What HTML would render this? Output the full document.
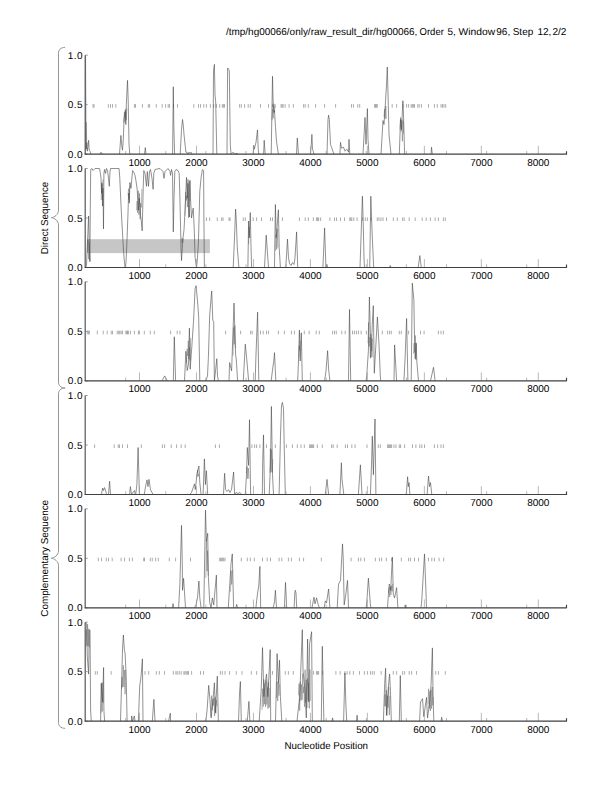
<!DOCTYPE html>
<html><head><meta charset="utf-8"><title>plot</title>
<style>html,body{margin:0;padding:0;background:#fff;}svg{display:block;text-rendering:geometricPrecision;}</style></head>
<body><svg width="612" height="792" viewBox="0 0 612 792" font-family="'Liberation Sans', Arial, Helvetica, sans-serif">
<rect width="612" height="792" fill="#fff"/>
<text y="34.6" font-size="10"><tspan x="226" textLength="191.4" lengthAdjust="spacingAndGlyphs">/tmp/hg00066/only/raw_result_dir/hg00066,</tspan> <tspan x="419.6" textLength="24.2" lengthAdjust="spacingAndGlyphs">Order</tspan> <tspan x="447.4">5,</tspan> <tspan x="458.5" textLength="36.6" lengthAdjust="spacingAndGlyphs">Window</tspan> <tspan x="496.3">96,</tspan> <tspan x="512.7">Step</tspan> <tspan x="537.5">12,</tspan> <tspan x="552.5">2/2</tspan></text>
<path d="M65.1,47.3 C60.5,47.599999999999994 58.5,49.8 58.5,53.3 L58.5,210.25 C58.5,214.65 54.3,217.35 51.3,217.65 C54.3,217.95000000000002 58.5,220.65 58.5,225.05 L58.5,382.0 C58.5,385.5 60.5,387.7 65.1,388.0" fill="none" stroke="#8a8a8a" stroke-width="0.9"/>
<path d="M65.1,388.0 C60.5,388.3 58.5,390.5 58.5,394.0 L58.5,550.8000000000001 C58.5,555.2 54.3,557.9000000000001 51.3,558.2 C54.3,558.5 58.5,561.2 58.5,565.6 L58.5,722.4 C58.5,725.9 60.5,728.1 65.1,728.4" fill="none" stroke="#8a8a8a" stroke-width="0.9"/>
<text transform="translate(47.6,218.0) rotate(-90)" font-size="10" text-anchor="middle" textLength="72.5" lengthAdjust="spacingAndGlyphs">Direct Sequence</text>
<text transform="translate(48.2,558.3) rotate(-90)" font-size="10" text-anchor="middle" textLength="116.8" lengthAdjust="spacingAndGlyphs">Complementary Sequence</text>
<text x="326.3" y="748.7" font-size="10" text-anchor="middle" textLength="83.5" lengthAdjust="spacingAndGlyphs">Nucleotide Position</text>
<rect x="86.9" y="239.2" width="123.0" height="13.9" fill="#c6c6c6"/>
<path d="M93.0,104.1v3.6M94.0,104.1v3.6M108.3,104.1v3.6M110.5,104.1v3.6M112.5,104.1v3.6M115.8,104.1v3.6M134.4,104.1v3.6M135.5,104.1v3.6M142.4,104.1v3.6M148.3,104.1v3.6M149.6,104.1v3.6M156.3,104.1v3.6M162.2,104.1v3.6M165.6,104.1v3.6M168.2,104.1v3.6M169.5,104.1v3.6M173.5,104.1v3.6M177.5,104.1v3.6M193.8,104.1v3.6M198.5,104.1v3.6M200.5,104.1v3.6M203.8,104.1v3.6M206.4,104.1v3.6M210.4,104.1v3.6M213.7,104.1v3.6M216.4,104.1v3.6M219.7,104.1v3.6M222.3,104.1v3.6M223.4,104.1v3.6M224.5,104.1v3.6M239.6,104.1v3.6M241.3,104.1v3.6M244.6,104.1v3.6M248.2,104.1v3.6M250.3,104.1v3.6M260.5,104.1v3.6M268.5,104.1v3.6M272.5,104.1v3.6M275.1,104.1v3.6M281.1,104.1v3.6M282.1,104.1v3.6M283.1,104.1v3.6M285.1,104.1v3.6M289.1,104.1v3.6M293.3,104.1v3.6M303.6,104.1v3.6M305.2,104.1v3.6M308.3,104.1v3.6M315.6,104.1v3.6M324.6,104.1v3.6M335.6,104.1v3.6M351.5,104.1v3.6M353.4,104.1v3.6M357.8,104.1v3.6M359.7,104.1v3.6M374.6,104.1v3.6M375.5,104.1v3.6M376.4,104.1v3.6M377.3,104.1v3.6M392.2,104.1v3.6M396.6,104.1v3.6M402.9,104.1v3.6M406.6,104.1v3.6M408.6,104.1v3.6M411.2,104.1v3.6M412.3,104.1v3.6M413.4,104.1v3.6M414.5,104.1v3.6M417.8,104.1v3.6M419.2,104.1v3.6M421.4,104.1v3.6M428.5,104.1v3.6M434.4,104.1v3.6M437.3,104.1v3.6M441.0,104.1v3.6M442.5,104.1v3.6M444.0,104.1v3.6M445.7,104.1v3.6" stroke="#888" stroke-width="0.7" fill="none"/>
<polyline points="123.80,122.7 124.40,111.8 125.00,121.7 125.60,112.2 126.20,119.7 126.80,108.1" fill="none" stroke="#707070" stroke-width="0.5"/>
<polyline points="272.00,120.4 272.60,108.8 273.20,118.3 273.80,103.7 274.40,112.1 275.00,105.7" fill="none" stroke="#707070" stroke-width="0.5"/>
<polyline points="384.00,117.0 384.60,108.9 385.20,118.8 385.80,106.0 386.40,118.8" fill="none" stroke="#707070" stroke-width="0.5"/>
<polyline points="400.00,129.5 400.60,117.3 401.20,131.4 401.80,119.5 402.40,141.3 403.00,120.8 403.60,133.6" fill="none" stroke="#707070" stroke-width="0.5"/>
<polyline points="85.50,149.7 86.10,122.0 86.70,141.4" fill="none" stroke="#707070" stroke-width="0.5"/>
<polyline points="85.5,55.2 85.9,121.5 86.3,149.2 86.8,142.3 87.3,151.2 88.0,146.2 88.6,140.3 89.2,150.2 90.0,151.2 91.0,154.2" fill="none" stroke="#484848" stroke-width="0.6" stroke-linejoin="round"/>
<polyline points="100.0,154.2 101.0,152.2 102.5,154.2" fill="none" stroke="#484848" stroke-width="0.6" stroke-linejoin="round"/>
<polyline points="119.5,154.2 120.9,135.4 121.8,146.2 122.5,150.2 123.3,139.3 124.0,119.5 125.4,109.6 125.8,124.5 126.3,104.7 127.5,80.4 128.2,99.7 129.0,144.3 129.8,154.2" fill="none" stroke="#484848" stroke-width="0.6" stroke-linejoin="round"/>
<polyline points="144.5,154.2 145.3,147.6 146.0,154.2" fill="none" stroke="#484848" stroke-width="0.6" stroke-linejoin="round"/>
<polyline points="172.6,154.2 173.3,86.8 173.8,124.5 174.6,154.2" fill="none" stroke="#484848" stroke-width="0.6" stroke-linejoin="round"/>
<polyline points="180.2,154.2 181.5,129.4 182.5,119.5 183.2,124.5 184.0,134.4 185.9,152.2 187.0,152.2 188.0,154.2 189.0,152.2 190.0,153.2 191.0,152.2 192.0,154.2" fill="none" stroke="#484848" stroke-width="0.6" stroke-linejoin="round"/>
<polyline points="213.0,154.2 213.5,71.0 214.4,64.4 215.0,94.8 215.7,101.7 216.8,154.2" fill="none" stroke="#484848" stroke-width="0.6" stroke-linejoin="round"/>
<polyline points="227.0,154.2 227.6,68.0 228.5,69.0 229.3,71.0 230.3,144.3 231.0,154.2 233.0,152.2 235.0,154.2 236.0,153.2 238.0,154.2" fill="none" stroke="#484848" stroke-width="0.6" stroke-linejoin="round"/>
<polyline points="253.2,154.2 253.7,145.3 254.3,149.2 256.0,142.3 257.5,129.9 258.2,149.2 258.8,154.2" fill="none" stroke="#484848" stroke-width="0.6" stroke-linejoin="round"/>
<polyline points="263.6,154.2 264.2,140.3 265.2,154.2" fill="none" stroke="#484848" stroke-width="0.6" stroke-linejoin="round"/>
<polyline points="271.2,154.2 272.5,76.3 273.2,104.7 274.0,112.6 274.5,110.6 275.5,127.4 276.5,141.3 278.4,154.2" fill="none" stroke="#484848" stroke-width="0.6" stroke-linejoin="round"/>
<polyline points="296.5,154.2 297.3,137.9 298.5,154.2" fill="none" stroke="#484848" stroke-width="0.6" stroke-linejoin="round"/>
<polyline points="310.5,154.2 311.3,144.3 311.9,134.4 312.5,149.2 313.2,151.2 314.0,154.2" fill="none" stroke="#484848" stroke-width="0.6" stroke-linejoin="round"/>
<polyline points="327.0,154.2 328.0,119.5 328.6,115.2 329.3,119.5 330.5,144.3 331.5,147.2 333.9,154.2" fill="none" stroke="#484848" stroke-width="0.6" stroke-linejoin="round"/>
<polyline points="339.9,154.2 340.5,142.3 341.5,148.2 343.5,147.2 345.0,151.2 347.0,149.2 348.5,152.2 349.0,139.3 349.8,154.2" fill="none" stroke="#484848" stroke-width="0.6" stroke-linejoin="round"/>
<polyline points="363.0,154.2 365.0,117.5 366.0,144.3 367.4,108.6 368.0,139.3 369.0,154.2" fill="none" stroke="#484848" stroke-width="0.6" stroke-linejoin="round"/>
<polyline points="381.0,154.2 383.0,120.5 384.0,124.5 385.0,109.6 386.5,84.9 387.3,67.0 388.3,104.7 389.0,134.4 391.0,154.2" fill="none" stroke="#484848" stroke-width="0.6" stroke-linejoin="round"/>
<polyline points="399.3,154.2 400.5,119.5 401.5,129.4 402.9,100.7 403.5,114.6 404.6,154.2" fill="none" stroke="#484848" stroke-width="0.6" stroke-linejoin="round"/>
<polyline points="431.0,154.2 431.5,147.2 432.3,154.2" fill="none" stroke="#484848" stroke-width="0.6" stroke-linejoin="round"/>
<line x1="125.7" y1="154.17" x2="125.7" y2="150.97" stroke="#9a9a9a" stroke-width="0.7"/>
<line x1="165.8" y1="154.17" x2="165.8" y2="150.97" stroke="#9a9a9a" stroke-width="0.7"/>
<line x1="205.9" y1="154.17" x2="205.9" y2="150.97" stroke="#9a9a9a" stroke-width="0.7"/>
<line x1="246.0" y1="154.17" x2="246.0" y2="150.97" stroke="#9a9a9a" stroke-width="0.7"/>
<line x1="286.1" y1="154.17" x2="286.1" y2="150.97" stroke="#9a9a9a" stroke-width="0.7"/>
<line x1="326.2" y1="154.17" x2="326.2" y2="150.97" stroke="#9a9a9a" stroke-width="0.7"/>
<line x1="366.3" y1="154.17" x2="366.3" y2="150.97" stroke="#9a9a9a" stroke-width="0.7"/>
<line x1="406.4" y1="154.17" x2="406.4" y2="150.97" stroke="#9a9a9a" stroke-width="0.7"/>
<line x1="446.5" y1="154.17" x2="446.5" y2="150.97" stroke="#9a9a9a" stroke-width="0.7"/>
<line x1="486.6" y1="154.17" x2="486.6" y2="150.97" stroke="#9a9a9a" stroke-width="0.7"/>
<line x1="526.7" y1="154.17" x2="526.7" y2="150.97" stroke="#9a9a9a" stroke-width="0.7"/>
<path d="M206.4,217.4v3.6M209.7,217.4v3.6M217.3,217.4v3.6M221.7,217.4v3.6M223.0,217.4v3.6M229.0,217.4v3.6M230.0,217.4v3.6M243.3,217.4v3.6M245.3,217.4v3.6M253.2,217.4v3.6M256.6,217.4v3.6M261.5,217.4v3.6M270.5,217.4v3.6M272.5,217.4v3.6M282.4,217.4v3.6M299.4,217.4v3.6M305.2,217.4v3.6M308.3,217.4v3.6M313.3,217.4v3.6M316.6,217.4v3.6M317.6,217.4v3.6M318.6,217.4v3.6M320.6,217.4v3.6M329.9,217.4v3.6M334.5,217.4v3.6M336.5,217.4v3.6M340.5,217.4v3.6M344.5,217.4v3.6M349.8,217.4v3.6M350.8,217.4v3.6M351.8,217.4v3.6M353.8,217.4v3.6M357.1,217.4v3.6M362.4,217.4v3.6M365.3,217.4v3.6M367.4,217.4v3.6M371.0,217.4v3.6M377.3,217.4v3.6M379.0,217.4v3.6M381.0,217.4v3.6M383.0,217.4v3.6M386.5,217.4v3.6M393.3,217.4v3.6M397.3,217.4v3.6M402.6,217.4v3.6M404.2,217.4v3.6M409.2,217.4v3.6M415.2,217.4v3.6M422.2,217.4v3.6M426.2,217.4v3.6M430.4,217.4v3.6M435.1,217.4v3.6M438.4,217.4v3.6M443.4,217.4v3.6M445.3,217.4v3.6" stroke="#888" stroke-width="0.7" fill="none"/>
<polyline points="101.20,200.0 101.80,182.5 102.40,199.9 103.00,179.4" fill="none" stroke="#707070" stroke-width="0.5"/>
<polyline points="136.50,210.3 137.10,201.1 137.70,212.8 138.30,190.8 138.90,214.8 139.50,193.4 140.10,219.1 140.70,203.2 141.30,207.4 141.90,189.0" fill="none" stroke="#707070" stroke-width="0.5"/>
<polyline points="128.00,195.5 128.60,188.7 129.20,199.7 129.80,185.9" fill="none" stroke="#707070" stroke-width="0.5"/>
<polyline points="181.50,242.7 182.10,237.9 182.70,242.7 183.30,238.8" fill="none" stroke="#707070" stroke-width="0.5"/>
<polyline points="185.00,215.6 185.60,192.1 186.20,200.5 186.80,195.7 187.40,207.1 188.00,179.2 188.60,217.9 189.20,180.8 189.80,201.2" fill="none" stroke="#707070" stroke-width="0.5"/>
<polyline points="248.60,244.3 249.20,227.0 249.80,237.7" fill="none" stroke="#707070" stroke-width="0.5"/>
<polyline points="275.50,250.8 276.10,234.5 276.70,249.4 277.30,228.7 277.90,247.6" fill="none" stroke="#707070" stroke-width="0.5"/>
<polyline points="87.50,252.5 88.10,239.5 88.70,259.2 89.30,242.2 89.90,261.2" fill="none" stroke="#707070" stroke-width="0.5"/>
<polyline points="85.6,267.5 86.5,265.5 88.6,216.0 89.2,242.8 89.9,261.6 90.3,208.1 90.7,169.5 92.0,168.5 93.0,170.5 95.0,168.5 99.5,168.5 100.4,173.4 101.0,178.4 101.5,193.2 102.0,183.4 102.5,206.1 103.0,188.3 103.5,228.9 103.9,173.4 104.6,169.5 105.5,173.4 106.5,168.5 107.5,170.5 108.5,178.4 109.3,186.3 110.0,171.5 110.5,168.5 115.0,168.5 119.1,168.5 119.8,178.4 121.0,205.1 121.8,221.0 122.5,232.8 123.2,244.7 124.0,257.6 125.1,267.5 126.0,262.6 127.1,237.8 128.0,213.1 128.6,193.2 129.3,203.1 129.9,182.4 131.0,188.3 132.6,170.5 133.9,172.5 135.0,175.4 135.9,180.4 137.2,189.3 138.0,203.1 138.5,210.1 139.2,198.2 139.9,205.1 140.6,216.0 141.2,220.0 142.2,230.9 143.2,188.3 143.8,170.5 145.0,173.4 146.5,186.3 147.3,171.5 148.5,186.3 149.5,171.5 150.5,169.5 152.0,178.4 153.1,189.3 153.8,173.4 155.0,169.5 160.0,168.5 163.0,171.5 164.0,178.4 165.0,171.5 168.0,168.5 170.0,171.5 170.6,175.4 171.5,169.5 172.5,173.4 173.3,231.9 174.0,198.2 174.8,171.5 176.0,169.5 178.0,170.5 179.2,173.4 179.9,198.2 180.6,227.9 181.0,247.7 181.5,260.6 182.3,247.7 183.0,237.8 184.0,229.9 185.2,208.1 186.5,177.4 187.3,198.2 188.0,183.4 188.8,208.1 189.4,217.0 190.0,180.4 190.5,198.2 191.5,218.0 193.2,208.1 194.2,227.9 195.1,257.6 196.5,267.5 197.5,257.6 198.4,242.8 199.8,191.3 201.0,178.4 202.4,169.5 203.6,170.5 203.9,218.0 204.4,267.5" fill="none" stroke="#484848" stroke-width="0.6" stroke-linejoin="round"/>
<polyline points="233.2,267.5 234.5,237.8 235.6,209.1 236.4,222.9 237.3,247.7 238.9,267.5" fill="none" stroke="#484848" stroke-width="0.6" stroke-linejoin="round"/>
<polyline points="247.9,267.5 248.6,221.0 249.2,237.8 250.3,212.6 250.9,242.8 251.6,267.5" fill="none" stroke="#484848" stroke-width="0.6" stroke-linejoin="round"/>
<polyline points="264.5,267.5 266.2,235.1 268.5,267.5" fill="none" stroke="#484848" stroke-width="0.6" stroke-linejoin="round"/>
<polyline points="274.5,267.5 275.4,204.5 276.2,237.8 277.0,227.9 278.4,209.8 279.2,247.7 280.4,267.5" fill="none" stroke="#484848" stroke-width="0.6" stroke-linejoin="round"/>
<polyline points="285.8,267.5 287.5,239.1 288.5,257.6 289.5,263.5 291.0,265.5 292.5,262.6 294.0,264.5 295.0,257.6 296.6,231.9 297.7,267.5" fill="none" stroke="#484848" stroke-width="0.6" stroke-linejoin="round"/>
<polyline points="322.9,267.5 324.6,227.9 325.9,267.5 327.0,264.5 327.5,267.5" fill="none" stroke="#484848" stroke-width="0.6" stroke-linejoin="round"/>
<polyline points="360.0,267.5 361.0,237.8 362.4,196.2 363.1,218.0 364.0,257.6 364.5,267.5" fill="none" stroke="#484848" stroke-width="0.6" stroke-linejoin="round"/>
<polyline points="369.7,267.5 370.8,196.2 372.3,237.8 373.7,267.5" fill="none" stroke="#484848" stroke-width="0.6" stroke-linejoin="round"/>
<polyline points="389.5,267.5 390.2,265.5 391.0,267.5" fill="none" stroke="#484848" stroke-width="0.6" stroke-linejoin="round"/>
<polyline points="418.2,267.5 419.8,255.6 421.3,267.5" fill="none" stroke="#484848" stroke-width="0.6" stroke-linejoin="round"/>
<line x1="125.7" y1="267.50" x2="125.7" y2="264.30" stroke="#9a9a9a" stroke-width="0.7"/>
<line x1="165.8" y1="267.50" x2="165.8" y2="264.30" stroke="#9a9a9a" stroke-width="0.7"/>
<line x1="205.9" y1="267.50" x2="205.9" y2="264.30" stroke="#9a9a9a" stroke-width="0.7"/>
<line x1="246.0" y1="267.50" x2="246.0" y2="264.30" stroke="#9a9a9a" stroke-width="0.7"/>
<line x1="286.1" y1="267.50" x2="286.1" y2="264.30" stroke="#9a9a9a" stroke-width="0.7"/>
<line x1="326.2" y1="267.50" x2="326.2" y2="264.30" stroke="#9a9a9a" stroke-width="0.7"/>
<line x1="366.3" y1="267.50" x2="366.3" y2="264.30" stroke="#9a9a9a" stroke-width="0.7"/>
<line x1="406.4" y1="267.50" x2="406.4" y2="264.30" stroke="#9a9a9a" stroke-width="0.7"/>
<line x1="446.5" y1="267.50" x2="446.5" y2="264.30" stroke="#9a9a9a" stroke-width="0.7"/>
<line x1="486.6" y1="267.50" x2="486.6" y2="264.30" stroke="#9a9a9a" stroke-width="0.7"/>
<line x1="526.7" y1="267.50" x2="526.7" y2="264.30" stroke="#9a9a9a" stroke-width="0.7"/>
<path d="M87.3,330.7v3.6M88.6,330.7v3.6M89.3,330.7v3.6M97.3,330.7v3.6M103.2,330.7v3.6M107.2,330.7v3.6M111.2,330.7v3.6M112.5,330.7v3.6M117.2,330.7v3.6M118.7,330.7v3.6M119.8,330.7v3.6M121.1,330.7v3.6M122.5,330.7v3.6M125.8,330.7v3.6M126.7,330.7v3.6M127.5,330.7v3.6M128.4,330.7v3.6M130.4,330.7v3.6M134.4,330.7v3.6M138.4,330.7v3.6M139.4,330.7v3.6M144.3,330.7v3.6M150.3,330.7v3.6M154.3,330.7v3.6M170.6,330.7v3.6M177.2,330.7v3.6M179.9,330.7v3.6M225.6,330.7v3.6M240.6,330.7v3.6M250.6,330.7v3.6M252.2,330.7v3.6M260.5,330.7v3.6M263.2,330.7v3.6M266.5,330.7v3.6M268.5,330.7v3.6M278.4,330.7v3.6M284.4,330.7v3.6M291.4,330.7v3.6M294.4,330.7v3.6M304.3,330.7v3.6M309.2,330.7v3.6M316.2,330.7v3.6M319.3,330.7v3.6M332.6,330.7v3.6M334.5,330.7v3.6M336.3,330.7v3.6M341.8,330.7v3.6M345.2,330.7v3.6M352.5,330.7v3.6M354.4,330.7v3.6M356.4,330.7v3.6M358.4,330.7v3.6M361.1,330.7v3.6M366.4,330.7v3.6M382.3,330.7v3.6M387.6,330.7v3.6M389.6,330.7v3.6M391.3,330.7v3.6M399.3,330.7v3.6M401.3,330.7v3.6M408.6,330.7v3.6M420.5,330.7v3.6M424.1,330.7v3.6M438.4,330.7v3.6M441.0,330.7v3.6M443.4,330.7v3.6" stroke="#888" stroke-width="0.7" fill="none"/>
<polyline points="186.50,362.8 187.10,348.9 187.70,356.0 188.30,340.8 188.90,359.0 189.50,347.3 190.10,360.6 190.70,338.0" fill="none" stroke="#707070" stroke-width="0.5"/>
<polyline points="233.00,355.7 233.60,327.4 234.20,344.4 234.80,325.4 235.40,348.3" fill="none" stroke="#707070" stroke-width="0.5"/>
<polyline points="298.60,357.5 299.20,345.7 299.80,350.5 300.40,340.8" fill="none" stroke="#707070" stroke-width="0.5"/>
<polyline points="368.00,343.2 368.60,322.5 369.20,346.5 369.80,337.0 370.40,358.3 371.00,334.0 371.60,351.1 372.20,338.5 372.80,357.3" fill="none" stroke="#707070" stroke-width="0.5"/>
<polyline points="413.50,353.8 414.10,343.1 414.70,352.5 415.30,335.5 415.90,359.9 416.50,343.9" fill="none" stroke="#707070" stroke-width="0.5"/>
<polyline points="162.0,380.8 164.6,375.9 167.3,380.8" fill="none" stroke="#484848" stroke-width="0.6" stroke-linejoin="round"/>
<polyline points="173.3,380.8 174.3,336.8 175.6,380.8" fill="none" stroke="#484848" stroke-width="0.6" stroke-linejoin="round"/>
<polyline points="184.5,380.8 185.9,351.4 187.2,370.6 188.5,364.0 189.4,328.2 190.2,369.2 191.8,346.8 193.5,321.4 195.1,288.4 196.1,285.7 197.8,304.3 198.7,317.6 199.8,380.8" fill="none" stroke="#484848" stroke-width="0.6" stroke-linejoin="round"/>
<polyline points="205.8,380.8 207.5,375.9 208.4,357.4 209.7,314.9 211.7,291.0 212.8,320.2 213.7,321.5 214.4,380.8 215.5,370.9 216.8,358.7 217.5,375.9 218.4,380.8" fill="none" stroke="#484848" stroke-width="0.6" stroke-linejoin="round"/>
<polyline points="229.0,380.8 229.6,362.6 231.6,370.9 232.3,351.1 234.0,303.0 235.6,354.7 236.3,359.9 237.6,380.8" fill="none" stroke="#484848" stroke-width="0.6" stroke-linejoin="round"/>
<polyline points="243.3,380.8 245.3,344.2 246.6,357.4 248.6,380.8" fill="none" stroke="#484848" stroke-width="0.6" stroke-linejoin="round"/>
<polyline points="255.2,380.8 255.9,357.4 257.6,312.2 258.8,380.8" fill="none" stroke="#484848" stroke-width="0.6" stroke-linejoin="round"/>
<polyline points="271.2,380.8 273.0,366.0 273.8,361.0 274.5,352.7 275.8,380.8" fill="none" stroke="#484848" stroke-width="0.6" stroke-linejoin="round"/>
<polyline points="297.7,380.8 298.5,361.0 299.4,330.1 300.2,361.0 301.3,332.8 302.3,380.8" fill="none" stroke="#484848" stroke-width="0.6" stroke-linejoin="round"/>
<polyline points="324.6,380.8 326.0,370.9 327.6,350.7 328.6,369.2 329.9,380.8" fill="none" stroke="#484848" stroke-width="0.6" stroke-linejoin="round"/>
<polyline points="348.5,380.8 349.5,309.5 350.7,380.8" fill="none" stroke="#484848" stroke-width="0.6" stroke-linejoin="round"/>
<polyline points="366.4,380.8 368.4,350.7 369.4,297.0 371.0,357.4 372.3,324.2 373.3,305.6 374.3,373.2 376.3,337.3 377.4,316.9 379.0,344.2 380.3,375.9 380.7,380.8" fill="none" stroke="#484848" stroke-width="0.6" stroke-linejoin="round"/>
<polyline points="394.0,380.8 394.6,344.9 396.6,380.8" fill="none" stroke="#484848" stroke-width="0.6" stroke-linejoin="round"/>
<polyline points="403.9,380.8 405.0,359.9 406.6,318.5 407.9,380.8" fill="none" stroke="#484848" stroke-width="0.6" stroke-linejoin="round"/>
<polyline points="411.2,380.8 412.3,283.1 413.9,300.3 414.5,337.3 415.2,358.7 416.1,342.8 416.9,362.6 418.5,380.8" fill="none" stroke="#484848" stroke-width="0.6" stroke-linejoin="round"/>
<polyline points="430.5,380.8 433.5,367.3 435.1,380.8" fill="none" stroke="#484848" stroke-width="0.6" stroke-linejoin="round"/>
<line x1="125.7" y1="380.83" x2="125.7" y2="377.63" stroke="#9a9a9a" stroke-width="0.7"/>
<line x1="165.8" y1="380.83" x2="165.8" y2="377.63" stroke="#9a9a9a" stroke-width="0.7"/>
<line x1="205.9" y1="380.83" x2="205.9" y2="377.63" stroke="#9a9a9a" stroke-width="0.7"/>
<line x1="246.0" y1="380.83" x2="246.0" y2="377.63" stroke="#9a9a9a" stroke-width="0.7"/>
<line x1="286.1" y1="380.83" x2="286.1" y2="377.63" stroke="#9a9a9a" stroke-width="0.7"/>
<line x1="326.2" y1="380.83" x2="326.2" y2="377.63" stroke="#9a9a9a" stroke-width="0.7"/>
<line x1="366.3" y1="380.83" x2="366.3" y2="377.63" stroke="#9a9a9a" stroke-width="0.7"/>
<line x1="406.4" y1="380.83" x2="406.4" y2="377.63" stroke="#9a9a9a" stroke-width="0.7"/>
<line x1="446.5" y1="380.83" x2="446.5" y2="377.63" stroke="#9a9a9a" stroke-width="0.7"/>
<line x1="486.6" y1="380.83" x2="486.6" y2="377.63" stroke="#9a9a9a" stroke-width="0.7"/>
<line x1="526.7" y1="380.83" x2="526.7" y2="377.63" stroke="#9a9a9a" stroke-width="0.7"/>
<path d="M94.6,444.4v3.6M114.2,444.4v3.6M118.2,444.4v3.6M119.5,444.4v3.6M122.5,444.4v3.6M127.5,444.4v3.6M141.3,444.4v3.6M162.4,444.4v3.6M164.6,444.4v3.6M171.3,444.4v3.6M176.6,444.4v3.6M181.2,444.4v3.6M185.2,444.4v3.6M215.4,444.4v3.6M219.4,444.4v3.6M251.9,444.4v3.6M254.6,444.4v3.6M256.6,444.4v3.6M259.9,444.4v3.6M266.5,444.4v3.6M275.4,444.4v3.6M286.4,444.4v3.6M292.4,444.4v3.6M297.3,444.4v3.6M301.0,444.4v3.6M304.3,444.4v3.6M309.6,444.4v3.6M310.6,444.4v3.6M311.6,444.4v3.6M312.6,444.4v3.6M313.6,444.4v3.6M317.3,444.4v3.6M322.3,444.4v3.6M331.6,444.4v3.6M333.2,444.4v3.6M337.2,444.4v3.6M345.4,444.4v3.6M347.5,444.4v3.6M351.8,444.4v3.6M355.1,444.4v3.6M367.0,444.4v3.6M378.3,444.4v3.6M380.3,444.4v3.6M387.6,444.4v3.6M388.6,444.4v3.6M389.6,444.4v3.6M390.6,444.4v3.6M391.6,444.4v3.6M394.0,444.4v3.6M396.0,444.4v3.6M399.3,444.4v3.6M400.6,444.4v3.6M404.6,444.4v3.6M412.5,444.4v3.6M415.9,444.4v3.6M419.8,444.4v3.6M421.8,444.4v3.6M424.5,444.4v3.6M434.4,444.4v3.6M437.7,444.4v3.6M441.0,444.4v3.6M443.4,444.4v3.6" stroke="#888" stroke-width="0.7" fill="none"/>
<polyline points="246.50,473.3 247.10,466.5 247.70,478.8 248.30,468.1 248.90,478.7" fill="none" stroke="#707070" stroke-width="0.5"/>
<polyline points="269.80,473.2 270.40,448.5 271.00,471.8 271.60,449.5 272.20,472.6 272.80,459.2" fill="none" stroke="#707070" stroke-width="0.5"/>
<polyline points="197.00,477.2 197.60,469.9 198.20,476.4 198.80,473.8" fill="none" stroke="#707070" stroke-width="0.5"/>
<polyline points="101.5,494.5 102.6,488.0 103.5,490.5 104.5,487.6 105.9,491.5 106.5,494.5" fill="none" stroke="#484848" stroke-width="0.6" stroke-linejoin="round"/>
<polyline points="108.5,494.5 109.6,481.2 110.5,494.5" fill="none" stroke="#484848" stroke-width="0.6" stroke-linejoin="round"/>
<polyline points="129.5,494.5 130.4,486.6 131.5,494.5 134.5,490.5 135.2,494.5" fill="none" stroke="#484848" stroke-width="0.6" stroke-linejoin="round"/>
<polyline points="135.7,494.5 136.9,484.6 138.1,447.5 139.4,494.5" fill="none" stroke="#484848" stroke-width="0.6" stroke-linejoin="round"/>
<polyline points="144.3,494.5 145.5,486.6 147.0,479.9 148.0,486.6 149.0,479.4 150.5,489.6 152.0,492.5 153.0,494.5" fill="none" stroke="#484848" stroke-width="0.6" stroke-linejoin="round"/>
<polyline points="189.8,494.5 191.5,492.5 194.5,483.9 195.3,489.6 197.1,473.3 198.9,466.0 199.8,482.6 201.1,494.5" fill="none" stroke="#484848" stroke-width="0.6" stroke-linejoin="round"/>
<polyline points="203.1,494.5 204.4,458.9 205.4,484.6 206.4,470.7 207.7,494.5" fill="none" stroke="#484848" stroke-width="0.6" stroke-linejoin="round"/>
<polyline points="223.5,494.5 224.6,473.3 225.6,489.6 227.0,491.5 228.5,489.6 230.0,492.5 231.5,489.6 233.6,472.0 234.6,494.5 236.0,492.5 238.0,493.5 240.0,492.5 241.3,494.5" fill="none" stroke="#484848" stroke-width="0.6" stroke-linejoin="round"/>
<polyline points="245.3,494.5 246.5,474.7 247.3,447.5 248.6,465.4 249.5,419.7 250.6,494.5" fill="none" stroke="#484848" stroke-width="0.6" stroke-linejoin="round"/>
<polyline points="262.3,494.5 262.7,461.4 263.5,434.9 264.5,494.5" fill="none" stroke="#484848" stroke-width="0.6" stroke-linejoin="round"/>
<polyline points="269.2,494.5 270.5,464.8 271.4,406.4 272.5,474.7 273.5,494.5" fill="none" stroke="#484848" stroke-width="0.6" stroke-linejoin="round"/>
<polyline points="279.1,494.5 280.5,435.1 281.5,405.4 282.4,402.4 283.5,408.4 284.2,445.0 285.3,494.5" fill="none" stroke="#484848" stroke-width="0.6" stroke-linejoin="round"/>
<polyline points="325.3,494.5 327.0,479.4 328.6,494.5" fill="none" stroke="#484848" stroke-width="0.6" stroke-linejoin="round"/>
<polyline points="339.9,494.5 341.4,462.8 342.0,479.6 343.8,494.5" fill="none" stroke="#484848" stroke-width="0.6" stroke-linejoin="round"/>
<polyline points="358.4,494.5 360.4,464.8 362.0,494.5" fill="none" stroke="#484848" stroke-width="0.6" stroke-linejoin="round"/>
<polyline points="370.4,494.5 371.5,464.8 372.3,436.2 373.4,474.7 375.0,419.0 375.9,494.5" fill="none" stroke="#484848" stroke-width="0.6" stroke-linejoin="round"/>
<polyline points="406.3,494.5 407.0,484.6 407.6,476.7 408.3,486.6 409.0,482.6 409.9,494.5" fill="none" stroke="#484848" stroke-width="0.6" stroke-linejoin="round"/>
<polyline points="427.1,494.5 428.5,476.0 429.5,486.6 430.5,482.6 431.8,494.5" fill="none" stroke="#484848" stroke-width="0.6" stroke-linejoin="round"/>
<line x1="125.7" y1="494.50" x2="125.7" y2="491.30" stroke="#9a9a9a" stroke-width="0.7"/>
<line x1="165.8" y1="494.50" x2="165.8" y2="491.30" stroke="#9a9a9a" stroke-width="0.7"/>
<line x1="205.9" y1="494.50" x2="205.9" y2="491.30" stroke="#9a9a9a" stroke-width="0.7"/>
<line x1="246.0" y1="494.50" x2="246.0" y2="491.30" stroke="#9a9a9a" stroke-width="0.7"/>
<line x1="286.1" y1="494.50" x2="286.1" y2="491.30" stroke="#9a9a9a" stroke-width="0.7"/>
<line x1="326.2" y1="494.50" x2="326.2" y2="491.30" stroke="#9a9a9a" stroke-width="0.7"/>
<line x1="366.3" y1="494.50" x2="366.3" y2="491.30" stroke="#9a9a9a" stroke-width="0.7"/>
<line x1="406.4" y1="494.50" x2="406.4" y2="491.30" stroke="#9a9a9a" stroke-width="0.7"/>
<line x1="446.5" y1="494.50" x2="446.5" y2="491.30" stroke="#9a9a9a" stroke-width="0.7"/>
<line x1="486.6" y1="494.50" x2="486.6" y2="491.30" stroke="#9a9a9a" stroke-width="0.7"/>
<line x1="526.7" y1="494.50" x2="526.7" y2="491.30" stroke="#9a9a9a" stroke-width="0.7"/>
<path d="M98.3,557.7v3.6M101.5,557.7v3.6M106.3,557.7v3.6M108.5,557.7v3.6M112.2,557.7v3.6M121.1,557.7v3.6M124.5,557.7v3.6M129.4,557.7v3.6M132.4,557.7v3.6M143.7,557.7v3.6M144.5,557.7v3.6M150.3,557.7v3.6M152.3,557.7v3.6M155.6,557.7v3.6M158.3,557.7v3.6M169.3,557.7v3.6M175.6,557.7v3.6M190.5,557.7v3.6M219.7,557.7v3.6M220.7,557.7v3.6M221.7,557.7v3.6M222.7,557.7v3.6M223.7,557.7v3.6M225.0,557.7v3.6M241.3,557.7v3.6M247.3,557.7v3.6M250.3,557.7v3.6M254.3,557.7v3.6M262.5,557.7v3.6M267.2,557.7v3.6M270.5,557.7v3.6M279.1,557.7v3.6M281.8,557.7v3.6M288.4,557.7v3.6M291.4,557.7v3.6M299.4,557.7v3.6M303.6,557.7v3.6M321.3,557.7v3.6M351.1,557.7v3.6M358.4,557.7v3.6M360.8,557.7v3.6M364.4,557.7v3.6M375.4,557.7v3.6M379.4,557.7v3.6M381.6,557.7v3.6M386.3,557.7v3.6M391.6,557.7v3.6M401.3,557.7v3.6M408.6,557.7v3.6M410.5,557.7v3.6M414.5,557.7v3.6M418.5,557.7v3.6M428.5,557.7v3.6M431.8,557.7v3.6M434.4,557.7v3.6M439.1,557.7v3.6M443.7,557.7v3.6" stroke="#888" stroke-width="0.7" fill="none"/>
<polyline points="205.80,577.9 206.40,540.5 207.00,571.1 207.60,550.7 208.20,575.7" fill="none" stroke="#707070" stroke-width="0.5"/>
<polyline points="230.50,591.7 231.10,570.8 231.70,584.5 232.30,569.9" fill="none" stroke="#707070" stroke-width="0.5"/>
<polyline points="388.50,593.0 389.10,587.5 389.70,597.0 390.30,586.7 390.90,594.9 391.50,585.8 392.10,591.3 392.70,583.7" fill="none" stroke="#707070" stroke-width="0.5"/>
<polyline points="172.3,607.8 173.0,603.6 173.8,607.8" fill="none" stroke="#484848" stroke-width="0.6" stroke-linejoin="round"/>
<polyline points="178.6,607.8 179.9,584.1 181.5,525.4 182.3,563.9 182.5,590.3 183.6,578.3 185.5,607.8" fill="none" stroke="#484848" stroke-width="0.6" stroke-linejoin="round"/>
<polyline points="194.5,607.8 196.0,604.9 197.5,597.9 198.9,581.0 199.8,597.9 201.1,607.8" fill="none" stroke="#484848" stroke-width="0.6" stroke-linejoin="round"/>
<polyline points="203.8,607.8 205.5,510.1 206.4,541.2 207.7,533.3 208.4,577.1 209.7,602.3 211.0,607.8 212.4,597.9 213.7,604.9 216.4,575.1 217.0,607.8" fill="none" stroke="#484848" stroke-width="0.6" stroke-linejoin="round"/>
<polyline points="228.3,607.8 231.0,563.9 232.3,553.9 233.6,607.8" fill="none" stroke="#484848" stroke-width="0.6" stroke-linejoin="round"/>
<polyline points="235.8,607.8 236.7,604.3 237.6,607.8" fill="none" stroke="#484848" stroke-width="0.6" stroke-linejoin="round"/>
<polyline points="255.9,607.8 257.2,596.0 258.8,585.1 259.9,566.4 260.7,607.8" fill="none" stroke="#484848" stroke-width="0.6" stroke-linejoin="round"/>
<polyline points="273.1,607.8 274.5,601.9 275.4,590.3 276.5,607.8" fill="none" stroke="#484848" stroke-width="0.6" stroke-linejoin="round"/>
<polyline points="284.4,607.8 285.5,582.4 286.7,607.8" fill="none" stroke="#484848" stroke-width="0.6" stroke-linejoin="round"/>
<polyline points="294.1,607.8 294.8,593.0 295.3,590.3 296.0,593.0 296.7,607.8" fill="none" stroke="#484848" stroke-width="0.6" stroke-linejoin="round"/>
<polyline points="312.0,607.8 312.5,604.9 314.0,597.2 315.0,603.9 316.6,597.9 318.0,603.9 319.3,607.8" fill="none" stroke="#484848" stroke-width="0.6" stroke-linejoin="round"/>
<polyline points="324.2,607.8 325.3,600.9 326.5,602.9 328.6,589.0 329.9,607.8" fill="none" stroke="#484848" stroke-width="0.6" stroke-linejoin="round"/>
<polyline points="337.2,607.8 338.5,584.1 340.5,580.4 342.5,543.9 343.2,557.1 344.2,604.9 345.8,594.3 347.5,580.4 348.5,607.8" fill="none" stroke="#484848" stroke-width="0.6" stroke-linejoin="round"/>
<polyline points="366.4,607.8 368.4,578.1 370.4,604.9 371.0,607.8" fill="none" stroke="#484848" stroke-width="0.6" stroke-linejoin="round"/>
<polyline points="387.5,607.8 388.5,593.0 389.3,584.1 390.7,590.3 391.5,573.2 392.4,557.1 393.3,594.3 394.6,597.9 396.6,587.6 397.9,607.8" fill="none" stroke="#484848" stroke-width="0.6" stroke-linejoin="round"/>
<polyline points="404.8,607.8 405.2,604.9 405.8,607.8" fill="none" stroke="#484848" stroke-width="0.6" stroke-linejoin="round"/>
<polyline points="421.0,607.8 421.8,599.9 424.5,553.9 425.8,587.0 426.5,607.8" fill="none" stroke="#484848" stroke-width="0.6" stroke-linejoin="round"/>
<line x1="125.7" y1="607.83" x2="125.7" y2="604.63" stroke="#9a9a9a" stroke-width="0.7"/>
<line x1="165.8" y1="607.83" x2="165.8" y2="604.63" stroke="#9a9a9a" stroke-width="0.7"/>
<line x1="205.9" y1="607.83" x2="205.9" y2="604.63" stroke="#9a9a9a" stroke-width="0.7"/>
<line x1="246.0" y1="607.83" x2="246.0" y2="604.63" stroke="#9a9a9a" stroke-width="0.7"/>
<line x1="286.1" y1="607.83" x2="286.1" y2="604.63" stroke="#9a9a9a" stroke-width="0.7"/>
<line x1="326.2" y1="607.83" x2="326.2" y2="604.63" stroke="#9a9a9a" stroke-width="0.7"/>
<line x1="366.3" y1="607.83" x2="366.3" y2="604.63" stroke="#9a9a9a" stroke-width="0.7"/>
<line x1="406.4" y1="607.83" x2="406.4" y2="604.63" stroke="#9a9a9a" stroke-width="0.7"/>
<line x1="446.5" y1="607.83" x2="446.5" y2="604.63" stroke="#9a9a9a" stroke-width="0.7"/>
<line x1="486.6" y1="607.83" x2="486.6" y2="604.63" stroke="#9a9a9a" stroke-width="0.7"/>
<line x1="526.7" y1="607.83" x2="526.7" y2="604.63" stroke="#9a9a9a" stroke-width="0.7"/>
<path d="M95.3,671.1v3.6M97.3,671.1v3.6M111.2,671.1v3.6M145.0,671.1v3.6M148.7,671.1v3.6M156.3,671.1v3.6M159.3,671.1v3.6M164.6,671.1v3.6M173.3,671.1v3.6M175.9,671.1v3.6M177.2,671.1v3.6M179.2,671.1v3.6M181.2,671.1v3.6M183.9,671.1v3.6M185.0,671.1v3.6M186.2,671.1v3.6M187.4,671.1v3.6M188.5,671.1v3.6M191.6,671.1v3.6M200.5,671.1v3.6M203.5,671.1v3.6M220.3,671.1v3.6M222.3,671.1v3.6M225.0,671.1v3.6M229.6,671.1v3.6M236.3,671.1v3.6M242.0,671.1v3.6M251.3,671.1v3.6M256.6,671.1v3.6M272.5,671.1v3.6M285.3,671.1v3.6M288.4,671.1v3.6M293.3,671.1v3.6M313.6,671.1v3.6M316.6,671.1v3.6M317.6,671.1v3.6M318.6,671.1v3.6M322.6,671.1v3.6M335.9,671.1v3.6M340.1,671.1v3.6M344.9,671.1v3.6M347.1,671.1v3.6M349.8,671.1v3.6M353.4,671.1v3.6M359.5,671.1v3.6M364.4,671.1v3.6M367.4,671.1v3.6M370.4,671.1v3.6M372.3,671.1v3.6M374.3,671.1v3.6M381.2,671.1v3.6M393.3,671.1v3.6M396.6,671.1v3.6M402.6,671.1v3.6M404.6,671.1v3.6M409.2,671.1v3.6M411.6,671.1v3.6M416.5,671.1v3.6M435.7,671.1v3.6M438.4,671.1v3.6M445.3,671.1v3.6" stroke="#888" stroke-width="0.7" fill="none"/>
<polyline points="85.80,647.1 86.40,629.7 87.00,645.8 87.60,624.2 88.20,646.2 88.80,628.8 89.40,647.6" fill="none" stroke="#707070" stroke-width="0.5"/>
<polyline points="101.00,713.2 101.60,682.8 102.20,711.5 102.80,682.5 103.40,703.3" fill="none" stroke="#707070" stroke-width="0.5"/>
<polyline points="121.50,689.0 122.10,676.8 122.70,687.3 123.30,665.3 123.90,686.9 124.50,670.0 125.10,694.2 125.70,670.0" fill="none" stroke="#707070" stroke-width="0.5"/>
<polyline points="211.00,716.1 211.60,695.6 212.20,710.2 212.80,699.1 213.40,705.5 214.00,698.3 214.60,715.9 215.20,696.8 215.80,713.4 216.40,699.8 217.00,706.3" fill="none" stroke="#707070" stroke-width="0.5"/>
<polyline points="262.00,709.9 262.60,688.7 263.20,706.7 263.80,679.5 264.40,704.2 265.00,683.1 265.60,706.8 266.20,680.7 266.80,704.5 267.40,687.4 268.00,708.7 268.60,682.4 269.20,707.5 269.80,688.0" fill="none" stroke="#707070" stroke-width="0.5"/>
<polyline points="276.50,698.1 277.10,681.6 277.70,701.0 278.30,683.1 278.90,695.7 279.50,684.2" fill="none" stroke="#707070" stroke-width="0.5"/>
<polyline points="298.50,695.3 299.10,683.6 299.70,710.7 300.30,681.7 300.90,700.7 301.50,684.5 302.10,699.9 302.70,673.7 303.30,693.1 303.90,686.7 304.50,706.8 305.10,669.6 305.70,702.4 306.30,679.9 306.90,708.0 307.50,678.5 308.10,700.4 308.70,682.7 309.30,708.4 309.90,669.5 310.50,700.9" fill="none" stroke="#707070" stroke-width="0.5"/>
<polyline points="384.50,706.2 385.10,694.4 385.70,706.3 386.30,690.0 386.90,715.8 387.50,695.7 388.10,707.6 388.70,686.9 389.30,715.1 389.90,695.9" fill="none" stroke="#707070" stroke-width="0.5"/>
<polyline points="428.00,703.8 428.60,688.8 429.20,708.4 429.80,691.2 430.40,711.0 431.00,689.9 431.60,708.6 432.20,687.0 432.80,705.4 433.40,697.0" fill="none" stroke="#707070" stroke-width="0.5"/>
<polyline points="85.6,622.5 86.7,623.8 87.3,656.9 88.6,674.1 89.3,629.7 90.0,630.4 90.6,710.0 91.3,721.2" fill="none" stroke="#484848" stroke-width="0.6" stroke-linejoin="round"/>
<polyline points="100.6,721.2 101.2,683.5 102.6,702.0 103.6,667.5 103.9,710.0 104.6,721.2" fill="none" stroke="#484848" stroke-width="0.6" stroke-linejoin="round"/>
<polyline points="120.5,721.2 121.8,676.8 122.5,648.9 123.4,635.0 124.4,650.3 125.1,653.0 126.2,676.8 127.1,721.2" fill="none" stroke="#484848" stroke-width="0.6" stroke-linejoin="round"/>
<polyline points="131.5,721.2 131.7,715.9 132.5,721.2 134.4,715.9 135.0,721.2" fill="none" stroke="#484848" stroke-width="0.6" stroke-linejoin="round"/>
<polyline points="138.4,721.2 139.7,686.1 141.0,676.8 142.4,658.9 143.0,721.2" fill="none" stroke="#484848" stroke-width="0.6" stroke-linejoin="round"/>
<polyline points="152.3,721.2 153.9,699.4 155.0,721.2" fill="none" stroke="#484848" stroke-width="0.6" stroke-linejoin="round"/>
<polyline points="168.6,721.2 170.3,713.2 170.6,721.2" fill="none" stroke="#484848" stroke-width="0.6" stroke-linejoin="round"/>
<polyline points="205.8,721.2 207.1,710.0 208.7,685.4 209.7,696.7 211.1,717.9 212.8,702.0 214.4,682.8 215.4,712.6 217.3,676.1 218.4,721.2" fill="none" stroke="#484848" stroke-width="0.6" stroke-linejoin="round"/>
<polyline points="238.5,721.2 239.6,691.5 240.4,681.5 241.3,721.2" fill="none" stroke="#484848" stroke-width="0.6" stroke-linejoin="round"/>
<polyline points="247.3,721.2 248.9,701.4 249.9,721.2" fill="none" stroke="#484848" stroke-width="0.6" stroke-linejoin="round"/>
<polyline points="259.2,721.2 261.2,690.1 262.5,647.6 263.9,696.7 265.2,683.5 266.5,674.1 267.8,696.7 269.2,670.2 270.2,649.6 270.7,721.2" fill="none" stroke="#484848" stroke-width="0.6" stroke-linejoin="round"/>
<polyline points="275.5,721.2 277.1,653.6 278.4,683.5 279.5,660.2 280.4,696.7 281.8,721.2" fill="none" stroke="#484848" stroke-width="0.6" stroke-linejoin="round"/>
<polyline points="297.0,721.2 299.7,696.7 301.0,663.6 302.3,629.7 303.0,670.2 305.0,690.1 306.3,717.9 307.6,639.0 308.7,702.0 309.6,643.7 311.6,631.7 312.3,721.2" fill="none" stroke="#484848" stroke-width="0.6" stroke-linejoin="round"/>
<polyline points="321.3,721.2 322.3,646.3 323.9,721.2" fill="none" stroke="#484848" stroke-width="0.6" stroke-linejoin="round"/>
<polyline points="332.0,721.2 332.6,717.9 333.2,721.2" fill="none" stroke="#484848" stroke-width="0.6" stroke-linejoin="round"/>
<polyline points="343.6,721.2 344.9,672.9 345.8,702.0 346.7,721.2" fill="none" stroke="#484848" stroke-width="0.6" stroke-linejoin="round"/>
<polyline points="356.5,721.2 357.1,715.2 357.7,721.2" fill="none" stroke="#484848" stroke-width="0.6" stroke-linejoin="round"/>
<polyline points="383.4,721.2 384.7,683.5 385.6,668.2 386.5,715.2 388.3,687.4 389.6,674.1 390.5,691.5 391.3,721.2" fill="none" stroke="#484848" stroke-width="0.6" stroke-linejoin="round"/>
<polyline points="399.3,721.2 400.3,675.6 401.3,721.2" fill="none" stroke="#484848" stroke-width="0.6" stroke-linejoin="round"/>
<polyline points="419.6,721.2 420.5,702.0 422.5,698.7 423.8,716.6 426.5,697.4 427.5,717.9 429.8,702.0 431.1,683.5 432.4,647.9 433.1,697.4 433.8,721.2" fill="none" stroke="#484848" stroke-width="0.6" stroke-linejoin="round"/>
<polyline points="441.0,721.2 441.7,717.2 442.4,721.2" fill="none" stroke="#484848" stroke-width="0.6" stroke-linejoin="round"/>
<line x1="125.7" y1="721.17" x2="125.7" y2="717.97" stroke="#9a9a9a" stroke-width="0.7"/>
<line x1="165.8" y1="721.17" x2="165.8" y2="717.97" stroke="#9a9a9a" stroke-width="0.7"/>
<line x1="205.9" y1="721.17" x2="205.9" y2="717.97" stroke="#9a9a9a" stroke-width="0.7"/>
<line x1="246.0" y1="721.17" x2="246.0" y2="717.97" stroke="#9a9a9a" stroke-width="0.7"/>
<line x1="286.1" y1="721.17" x2="286.1" y2="717.97" stroke="#9a9a9a" stroke-width="0.7"/>
<line x1="326.2" y1="721.17" x2="326.2" y2="717.97" stroke="#9a9a9a" stroke-width="0.7"/>
<line x1="366.3" y1="721.17" x2="366.3" y2="717.97" stroke="#9a9a9a" stroke-width="0.7"/>
<line x1="406.4" y1="721.17" x2="406.4" y2="717.97" stroke="#9a9a9a" stroke-width="0.7"/>
<line x1="446.5" y1="721.17" x2="446.5" y2="717.97" stroke="#9a9a9a" stroke-width="0.7"/>
<line x1="486.6" y1="721.17" x2="486.6" y2="717.97" stroke="#9a9a9a" stroke-width="0.7"/>
<line x1="526.7" y1="721.17" x2="526.7" y2="717.97" stroke="#9a9a9a" stroke-width="0.7"/>
<line x1="139.50" y1="154.17" x2="139.50" y2="145.77" stroke="#9a9a9a" stroke-width="0.7"/>
<text x="139.50" y="165.67" font-size="10" text-anchor="middle">1000</text>
<line x1="196.47" y1="154.17" x2="196.47" y2="145.77" stroke="#9a9a9a" stroke-width="0.7"/>
<text x="196.47" y="165.67" font-size="10" text-anchor="middle">2000</text>
<line x1="253.44" y1="154.17" x2="253.44" y2="145.77" stroke="#9a9a9a" stroke-width="0.7"/>
<text x="253.44" y="165.67" font-size="10" text-anchor="middle">3000</text>
<line x1="310.41" y1="154.17" x2="310.41" y2="145.77" stroke="#9a9a9a" stroke-width="0.7"/>
<text x="310.41" y="165.67" font-size="10" text-anchor="middle">4000</text>
<line x1="367.38" y1="154.17" x2="367.38" y2="145.77" stroke="#9a9a9a" stroke-width="0.7"/>
<text x="367.38" y="165.67" font-size="10" text-anchor="middle">5000</text>
<line x1="424.36" y1="154.17" x2="424.36" y2="145.77" stroke="#9a9a9a" stroke-width="0.7"/>
<text x="424.36" y="165.67" font-size="10" text-anchor="middle">6000</text>
<line x1="481.33" y1="154.17" x2="481.33" y2="145.77" stroke="#9a9a9a" stroke-width="0.7"/>
<text x="481.33" y="165.67" font-size="10" text-anchor="middle">7000</text>
<line x1="538.30" y1="154.17" x2="538.30" y2="145.77" stroke="#9a9a9a" stroke-width="0.7"/>
<text x="538.30" y="165.67" font-size="10" text-anchor="middle">8000</text>
<line x1="85.2" y1="154.17" x2="87.8" y2="154.17" stroke="#777" stroke-width="0.7"/>
<text x="83.1" y="157.67" font-size="10" text-anchor="end" letter-spacing="0.5">0.0</text>
<line x1="85.2" y1="104.67" x2="87.8" y2="104.67" stroke="#777" stroke-width="0.7"/>
<text x="83.1" y="108.17" font-size="10" text-anchor="end" letter-spacing="0.5">0.5</text>
<line x1="85.2" y1="55.17" x2="87.8" y2="55.17" stroke="#777" stroke-width="0.7"/>
<text x="83.1" y="58.67" font-size="10" text-anchor="end" letter-spacing="0.5">1.0</text>
<path d="M85.2,55.17 L85.2,154.17" fill="none" stroke="#565656" stroke-width="1.2"/>
<path d="M84.60000000000001,154.17 L566.5,154.17 M566.5,154.67 L566.5,151.17" fill="none" stroke="#404040" stroke-width="1.16"/>
<line x1="139.50" y1="267.50" x2="139.50" y2="259.10" stroke="#9a9a9a" stroke-width="0.7"/>
<text x="139.50" y="279.00" font-size="10" text-anchor="middle">1000</text>
<line x1="196.47" y1="267.50" x2="196.47" y2="259.10" stroke="#9a9a9a" stroke-width="0.7"/>
<text x="196.47" y="279.00" font-size="10" text-anchor="middle">2000</text>
<line x1="253.44" y1="267.50" x2="253.44" y2="259.10" stroke="#9a9a9a" stroke-width="0.7"/>
<text x="253.44" y="279.00" font-size="10" text-anchor="middle">3000</text>
<line x1="310.41" y1="267.50" x2="310.41" y2="259.10" stroke="#9a9a9a" stroke-width="0.7"/>
<text x="310.41" y="279.00" font-size="10" text-anchor="middle">4000</text>
<line x1="367.38" y1="267.50" x2="367.38" y2="259.10" stroke="#9a9a9a" stroke-width="0.7"/>
<text x="367.38" y="279.00" font-size="10" text-anchor="middle">5000</text>
<line x1="424.36" y1="267.50" x2="424.36" y2="259.10" stroke="#9a9a9a" stroke-width="0.7"/>
<text x="424.36" y="279.00" font-size="10" text-anchor="middle">6000</text>
<line x1="481.33" y1="267.50" x2="481.33" y2="259.10" stroke="#9a9a9a" stroke-width="0.7"/>
<text x="481.33" y="279.00" font-size="10" text-anchor="middle">7000</text>
<line x1="538.30" y1="267.50" x2="538.30" y2="259.10" stroke="#9a9a9a" stroke-width="0.7"/>
<text x="538.30" y="279.00" font-size="10" text-anchor="middle">8000</text>
<line x1="85.2" y1="267.50" x2="87.8" y2="267.50" stroke="#777" stroke-width="0.7"/>
<text x="83.1" y="271.00" font-size="10" text-anchor="end" letter-spacing="0.5">0.0</text>
<line x1="85.2" y1="218.00" x2="87.8" y2="218.00" stroke="#777" stroke-width="0.7"/>
<text x="83.1" y="221.50" font-size="10" text-anchor="end" letter-spacing="0.5">0.5</text>
<line x1="85.2" y1="168.50" x2="87.8" y2="168.50" stroke="#777" stroke-width="0.7"/>
<text x="83.1" y="172.00" font-size="10" text-anchor="end" letter-spacing="0.5">1.0</text>
<path d="M85.2,168.50 L85.2,267.50" fill="none" stroke="#565656" stroke-width="1.2"/>
<path d="M84.60000000000001,267.50 L566.5,267.50 M566.5,268.00 L566.5,264.50" fill="none" stroke="#404040" stroke-width="1.16"/>
<line x1="139.50" y1="380.83" x2="139.50" y2="372.43" stroke="#9a9a9a" stroke-width="0.7"/>
<text x="139.50" y="392.33" font-size="10" text-anchor="middle">1000</text>
<line x1="196.47" y1="380.83" x2="196.47" y2="372.43" stroke="#9a9a9a" stroke-width="0.7"/>
<text x="196.47" y="392.33" font-size="10" text-anchor="middle">2000</text>
<line x1="253.44" y1="380.83" x2="253.44" y2="372.43" stroke="#9a9a9a" stroke-width="0.7"/>
<text x="253.44" y="392.33" font-size="10" text-anchor="middle">3000</text>
<line x1="310.41" y1="380.83" x2="310.41" y2="372.43" stroke="#9a9a9a" stroke-width="0.7"/>
<text x="310.41" y="392.33" font-size="10" text-anchor="middle">4000</text>
<line x1="367.38" y1="380.83" x2="367.38" y2="372.43" stroke="#9a9a9a" stroke-width="0.7"/>
<text x="367.38" y="392.33" font-size="10" text-anchor="middle">5000</text>
<line x1="424.36" y1="380.83" x2="424.36" y2="372.43" stroke="#9a9a9a" stroke-width="0.7"/>
<text x="424.36" y="392.33" font-size="10" text-anchor="middle">6000</text>
<line x1="481.33" y1="380.83" x2="481.33" y2="372.43" stroke="#9a9a9a" stroke-width="0.7"/>
<text x="481.33" y="392.33" font-size="10" text-anchor="middle">7000</text>
<line x1="538.30" y1="380.83" x2="538.30" y2="372.43" stroke="#9a9a9a" stroke-width="0.7"/>
<text x="538.30" y="392.33" font-size="10" text-anchor="middle">8000</text>
<line x1="85.2" y1="380.83" x2="87.8" y2="380.83" stroke="#777" stroke-width="0.7"/>
<text x="83.1" y="384.33" font-size="10" text-anchor="end" letter-spacing="0.5">0.0</text>
<line x1="85.2" y1="331.33" x2="87.8" y2="331.33" stroke="#777" stroke-width="0.7"/>
<text x="83.1" y="334.83" font-size="10" text-anchor="end" letter-spacing="0.5">0.5</text>
<line x1="85.2" y1="281.83" x2="87.8" y2="281.83" stroke="#777" stroke-width="0.7"/>
<text x="83.1" y="285.33" font-size="10" text-anchor="end" letter-spacing="0.5">1.0</text>
<path d="M85.2,281.83 L85.2,380.83" fill="none" stroke="#565656" stroke-width="1.2"/>
<path d="M84.60000000000001,380.83 L566.5,380.83 M566.5,381.33 L566.5,377.83" fill="none" stroke="#404040" stroke-width="1.16"/>
<line x1="139.50" y1="494.50" x2="139.50" y2="486.10" stroke="#9a9a9a" stroke-width="0.7"/>
<text x="139.50" y="506.00" font-size="10" text-anchor="middle">1000</text>
<line x1="196.47" y1="494.50" x2="196.47" y2="486.10" stroke="#9a9a9a" stroke-width="0.7"/>
<text x="196.47" y="506.00" font-size="10" text-anchor="middle">2000</text>
<line x1="253.44" y1="494.50" x2="253.44" y2="486.10" stroke="#9a9a9a" stroke-width="0.7"/>
<text x="253.44" y="506.00" font-size="10" text-anchor="middle">3000</text>
<line x1="310.41" y1="494.50" x2="310.41" y2="486.10" stroke="#9a9a9a" stroke-width="0.7"/>
<text x="310.41" y="506.00" font-size="10" text-anchor="middle">4000</text>
<line x1="367.38" y1="494.50" x2="367.38" y2="486.10" stroke="#9a9a9a" stroke-width="0.7"/>
<text x="367.38" y="506.00" font-size="10" text-anchor="middle">5000</text>
<line x1="424.36" y1="494.50" x2="424.36" y2="486.10" stroke="#9a9a9a" stroke-width="0.7"/>
<text x="424.36" y="506.00" font-size="10" text-anchor="middle">6000</text>
<line x1="481.33" y1="494.50" x2="481.33" y2="486.10" stroke="#9a9a9a" stroke-width="0.7"/>
<text x="481.33" y="506.00" font-size="10" text-anchor="middle">7000</text>
<line x1="538.30" y1="494.50" x2="538.30" y2="486.10" stroke="#9a9a9a" stroke-width="0.7"/>
<text x="538.30" y="506.00" font-size="10" text-anchor="middle">8000</text>
<line x1="85.2" y1="494.50" x2="87.8" y2="494.50" stroke="#777" stroke-width="0.7"/>
<text x="83.1" y="498.00" font-size="10" text-anchor="end" letter-spacing="0.5">0.0</text>
<line x1="85.2" y1="445.00" x2="87.8" y2="445.00" stroke="#777" stroke-width="0.7"/>
<text x="83.1" y="448.50" font-size="10" text-anchor="end" letter-spacing="0.5">0.5</text>
<line x1="85.2" y1="395.50" x2="87.8" y2="395.50" stroke="#777" stroke-width="0.7"/>
<text x="83.1" y="399.00" font-size="10" text-anchor="end" letter-spacing="0.5">1.0</text>
<path d="M85.2,395.50 L85.2,494.50" fill="none" stroke="#565656" stroke-width="1.2"/>
<path d="M84.60000000000001,494.50 L566.5,494.50 M566.5,495.00 L566.5,491.50" fill="none" stroke="#404040" stroke-width="1.16"/>
<line x1="139.50" y1="607.83" x2="139.50" y2="599.43" stroke="#9a9a9a" stroke-width="0.7"/>
<text x="139.50" y="619.33" font-size="10" text-anchor="middle">1000</text>
<line x1="196.47" y1="607.83" x2="196.47" y2="599.43" stroke="#9a9a9a" stroke-width="0.7"/>
<text x="196.47" y="619.33" font-size="10" text-anchor="middle">2000</text>
<line x1="253.44" y1="607.83" x2="253.44" y2="599.43" stroke="#9a9a9a" stroke-width="0.7"/>
<text x="253.44" y="619.33" font-size="10" text-anchor="middle">3000</text>
<line x1="310.41" y1="607.83" x2="310.41" y2="599.43" stroke="#9a9a9a" stroke-width="0.7"/>
<text x="310.41" y="619.33" font-size="10" text-anchor="middle">4000</text>
<line x1="367.38" y1="607.83" x2="367.38" y2="599.43" stroke="#9a9a9a" stroke-width="0.7"/>
<text x="367.38" y="619.33" font-size="10" text-anchor="middle">5000</text>
<line x1="424.36" y1="607.83" x2="424.36" y2="599.43" stroke="#9a9a9a" stroke-width="0.7"/>
<text x="424.36" y="619.33" font-size="10" text-anchor="middle">6000</text>
<line x1="481.33" y1="607.83" x2="481.33" y2="599.43" stroke="#9a9a9a" stroke-width="0.7"/>
<text x="481.33" y="619.33" font-size="10" text-anchor="middle">7000</text>
<line x1="538.30" y1="607.83" x2="538.30" y2="599.43" stroke="#9a9a9a" stroke-width="0.7"/>
<text x="538.30" y="619.33" font-size="10" text-anchor="middle">8000</text>
<line x1="85.2" y1="607.83" x2="87.8" y2="607.83" stroke="#777" stroke-width="0.7"/>
<text x="83.1" y="611.33" font-size="10" text-anchor="end" letter-spacing="0.5">0.0</text>
<line x1="85.2" y1="558.33" x2="87.8" y2="558.33" stroke="#777" stroke-width="0.7"/>
<text x="83.1" y="561.83" font-size="10" text-anchor="end" letter-spacing="0.5">0.5</text>
<line x1="85.2" y1="508.83" x2="87.8" y2="508.83" stroke="#777" stroke-width="0.7"/>
<text x="83.1" y="512.33" font-size="10" text-anchor="end" letter-spacing="0.5">1.0</text>
<path d="M85.2,508.83 L85.2,607.83" fill="none" stroke="#565656" stroke-width="1.2"/>
<path d="M84.60000000000001,607.83 L566.5,607.83 M566.5,608.33 L566.5,604.83" fill="none" stroke="#404040" stroke-width="1.16"/>
<line x1="139.50" y1="721.17" x2="139.50" y2="712.77" stroke="#9a9a9a" stroke-width="0.7"/>
<text x="139.50" y="732.67" font-size="10" text-anchor="middle">1000</text>
<line x1="196.47" y1="721.17" x2="196.47" y2="712.77" stroke="#9a9a9a" stroke-width="0.7"/>
<text x="196.47" y="732.67" font-size="10" text-anchor="middle">2000</text>
<line x1="253.44" y1="721.17" x2="253.44" y2="712.77" stroke="#9a9a9a" stroke-width="0.7"/>
<text x="253.44" y="732.67" font-size="10" text-anchor="middle">3000</text>
<line x1="310.41" y1="721.17" x2="310.41" y2="712.77" stroke="#9a9a9a" stroke-width="0.7"/>
<text x="310.41" y="732.67" font-size="10" text-anchor="middle">4000</text>
<line x1="367.38" y1="721.17" x2="367.38" y2="712.77" stroke="#9a9a9a" stroke-width="0.7"/>
<text x="367.38" y="732.67" font-size="10" text-anchor="middle">5000</text>
<line x1="424.36" y1="721.17" x2="424.36" y2="712.77" stroke="#9a9a9a" stroke-width="0.7"/>
<text x="424.36" y="732.67" font-size="10" text-anchor="middle">6000</text>
<line x1="481.33" y1="721.17" x2="481.33" y2="712.77" stroke="#9a9a9a" stroke-width="0.7"/>
<text x="481.33" y="732.67" font-size="10" text-anchor="middle">7000</text>
<line x1="538.30" y1="721.17" x2="538.30" y2="712.77" stroke="#9a9a9a" stroke-width="0.7"/>
<text x="538.30" y="732.67" font-size="10" text-anchor="middle">8000</text>
<line x1="85.2" y1="721.17" x2="87.8" y2="721.17" stroke="#777" stroke-width="0.7"/>
<text x="83.1" y="724.67" font-size="10" text-anchor="end" letter-spacing="0.5">0.0</text>
<line x1="85.2" y1="671.67" x2="87.8" y2="671.67" stroke="#777" stroke-width="0.7"/>
<text x="83.1" y="675.17" font-size="10" text-anchor="end" letter-spacing="0.5">0.5</text>
<line x1="85.2" y1="622.17" x2="87.8" y2="622.17" stroke="#777" stroke-width="0.7"/>
<text x="83.1" y="625.67" font-size="10" text-anchor="end" letter-spacing="0.5">1.0</text>
<path d="M85.2,622.17 L85.2,721.17" fill="none" stroke="#565656" stroke-width="1.2"/>
<path d="M84.60000000000001,721.17 L566.5,721.17 M566.5,721.67 L566.5,718.17" fill="none" stroke="#404040" stroke-width="1.16"/>
</svg></body></html>
